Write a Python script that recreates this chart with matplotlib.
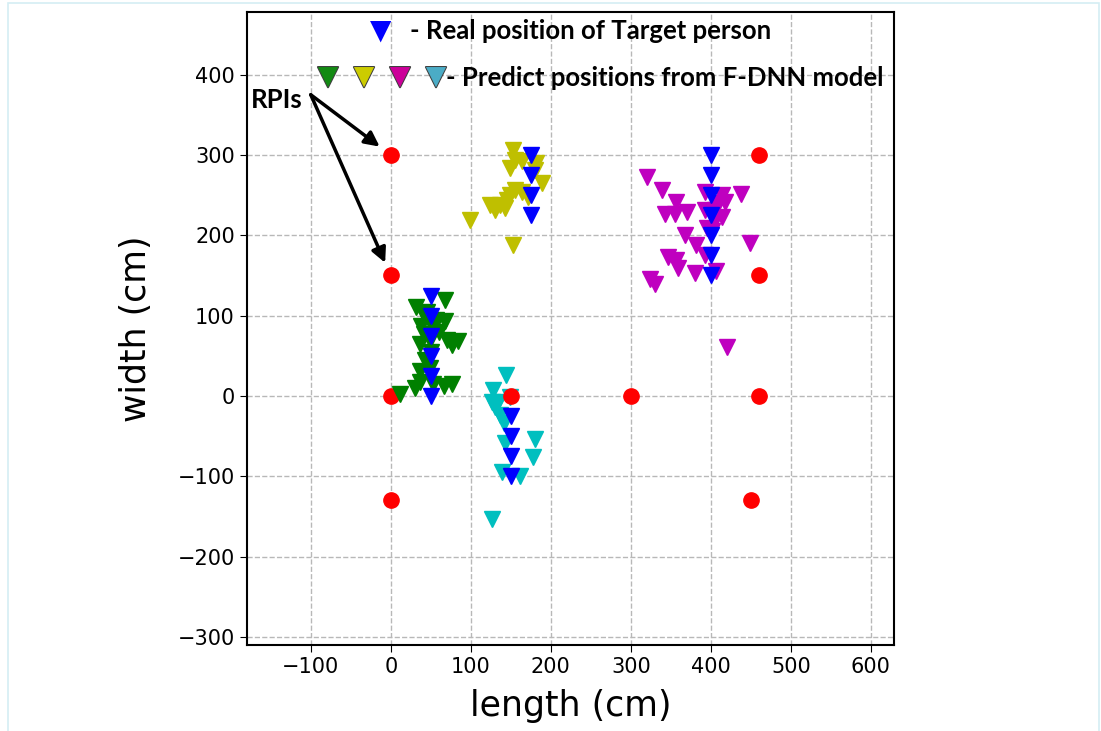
import matplotlib
matplotlib.use("Agg")
import matplotlib.pyplot as plt
import matplotlib.patheffects as pe
from matplotlib.patches import Rectangle

# reference points (RPIs)
rpi_x = [0, 0, 0, 0, 150, 300, 460, 460, 460, 450]
rpi_y = [300, 150, 0, -130, 0, 0, 300, 150, 0, -130]

# real positions of the target person
real_x = [50, 50, 50, 50, 50, 50,
          175, 175, 175, 175,
          150, 150, 150, 150,
          400, 400, 400, 400, 400, 400, 400]
real_y = [0, 25, 50, 75, 100, 125,
          225, 250, 275, 300,
          -25, -50, -75, -100,
          150, 175, 200, 225, 250, 275, 300]

# predicted positions, one group per real cluster
green_x = [12, 68, 32, 40, 57, 68, 38, 53, 41, 49, 70, 84, 76, 37, 43, 37, 49, 37, 53, 66, 76, 45, 60, 50, 30]
green_y = [3, 119, 111, 103, 95, 93, 87, 85, 77, 70, 70, 68, 64, 65, 45, 31, 35, 17, 15, 13, 15, 105, 80, 55, 10]

yellow_x = [153, 155, 164, 182, 149, 180, 189, 155, 164, 149, 172, 145, 137, 124, 130, 143, 99, 153]
yellow_y = [306, 294, 292, 290, 284, 281, 265, 257, 254, 250, 248, 244, 238, 238, 231, 234, 219, 188]

magenta_x = [320, 339, 393, 438, 414, 357, 418, 409, 343, 355, 370, 393, 405, 414, 405,
             395, 401, 368, 382, 393, 449, 347, 357, 359, 380, 407, 324, 330, 420]
magenta_y = [273, 257, 254, 252, 250, 242, 242, 240, 227, 227, 229, 232, 232, 223, 219,
             209, 205, 200, 188, 175, 190, 173, 169, 159, 153, 155, 146, 140, 61]

cyan_x = [144, 128, 126, 130, 137, 141, 143, 180, 178, 139, 162, 126, 134, 149]
cyan_y = [26, 7, -8, -14, -24, -33, -58, -53, -76, -95, -99, -153, -8, -1]

x_ticks = [-100, 0, 100, 200, 300, 400, 500, 600]
y_ticks = [-300, -200, -100, 0, 100, 200, 300, 400]

fig = plt.figure(figsize=(11.01, 7.31), dpi=100)
ax = fig.add_axes([0.2241, 0.1176, 0.5880, 0.8660])

ms = 11
ax.plot(cyan_x, cyan_y, "v", color="c", ms=ms, zorder=3)
ax.plot(rpi_x, rpi_y, "o", color="red", ms=ms, zorder=4)
ax.plot(green_x, green_y, "v", color="g", ms=ms, zorder=5)
ax.plot(yellow_x, yellow_y, "v", color="y", ms=ms, zorder=5)
ax.plot(magenta_x, magenta_y, "v", color="m", ms=ms, zorder=5)
ax.plot(real_x, real_y, "v", color="b", ms=ms, zorder=6)

ax.set_xlim(-180, 629)
ax.set_ylim(-310, 478)
ax.set_xticks(x_ticks)
ax.set_yticks(y_ticks)
ax.tick_params(labelsize=15, length=5)
ax.grid(True, linestyle="--", color="#b8b8b8", linewidth=1)
ax.set_axisbelow(True)
for s in ax.spines.values():
    s.set_linewidth(1.5)
ax.set_xlabel("length (cm)", fontsize=25, labelpad=9)
ax.set_ylabel("width (cm)", fontsize=25, labelpad=18)

# RPI pointer arrows
ax.text(-110, 369, "RPIs", fontsize=18.5, fontweight="bold", family="Lato",
        ha="right", va="center", zorder=10)
for tx, ty in [(0, 300), (0, 150)]:
    ax.annotate("", xy=(tx, ty), xytext=(-100, 375),
                arrowprops=dict(arrowstyle="-|>", color="black", lw=2.5,
                                mutation_scale=22, shrinkA=0, shrinkB=10),
                zorder=10)

# hand-drawn style legend
W, H = 1101, 731
fig.text(381 / W, 1 - 31 / H, "\u25bc", color="blue", fontsize=20,
         ha="center", va="center", family="DejaVu Sans")
fig.text(410 / W, 1 - 31 / H, "- Real position of Target person", fontsize=18.5,
         fontweight="bold", family="Lato", ha="left", va="center")
edge = [pe.withStroke(linewidth=1.5, foreground="#404040")]
for px, col in [(328, "#138a13"), (364, "#cccc00"), (400, "#cc0099"), (436, "#4bacc6")]:
    fig.text(px / W, 1 - 77 / H, "\u25bc", color=col, fontsize=19, ha="center",
             va="center", family="DejaVu Sans", path_effects=edge)
fig.text(446 / W, 1 - 78 / H, "- Predict positions from F-DNN model", fontsize=18.5,
         fontweight="bold", family="Lato", ha="left", va="center")

# faint frame of the original screenshot
fig.patches.append(Rectangle((8 / W, -0.01), (1099 - 8) / W, 1 - 3 / H + 0.01,
                             transform=fig.transFigure, fill=False,
                             edgecolor="#d4eef4", lw=1.2))

fig.savefig("out.png", dpi=100)
